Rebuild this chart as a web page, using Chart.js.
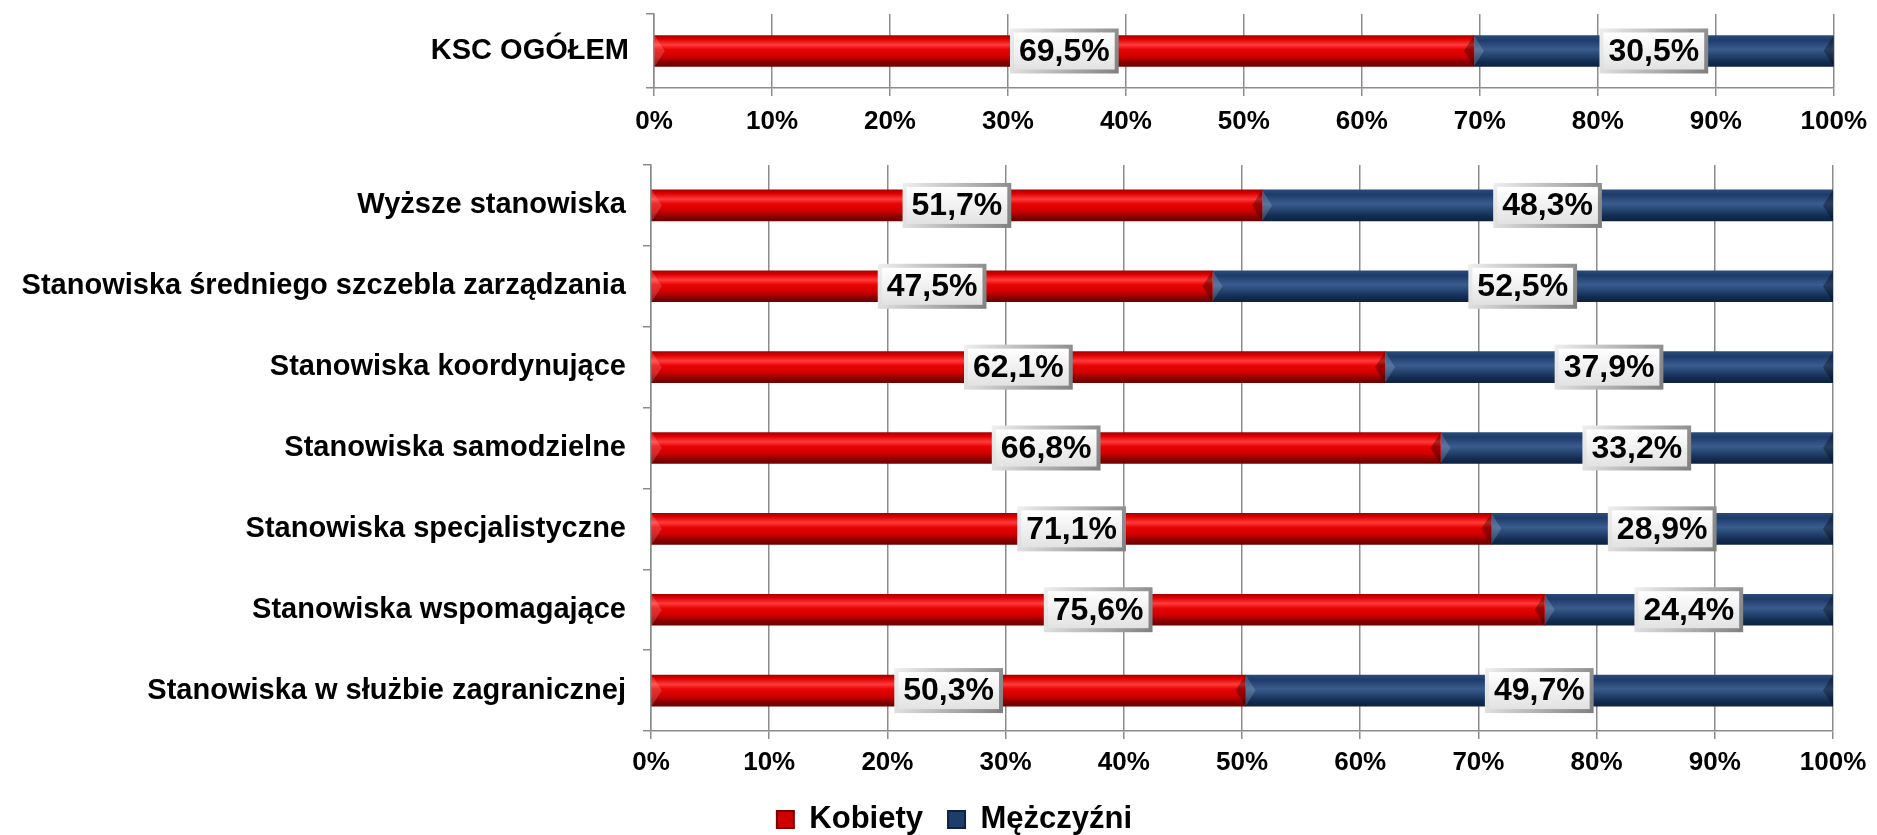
<!DOCTYPE html>
<html lang="pl">
<head>
<meta charset="UTF-8">
<title>KSC - kobiety i mężczyźni wg grup stanowisk</title>
<script src="https://cdn.jsdelivr.net/npm/chart.js"></script>
<style>
    body { margin: 0; width: 1877px; height: 835px; overflow: hidden; background: #fff; position: relative; }
    .box { position: absolute; left: 0; width: 1877px; }
</style>
</head>
<body>
<div class="box" style="top: 0; height: 140px;"><canvas id="totalChart"></canvas></div>
<div class="box" style="top: 140px; height: 705px;"><canvas id="groupsChart"></canvas></div>

<script>
    // dane
    const totalLabels = ['KSC OGÓŁEM'];
    const totalKobiety = [69.5];
    const totalMezczyzni = [30.5];

    const groupLabels = [
        'Wyższe stanowiska',
        'Stanowiska średniego szczebla zarządzania',
        'Stanowiska koordynujące',
        'Stanowiska samodzielne',
        'Stanowiska specjalistyczne',
        'Stanowiska wspomagające',
        'Stanowiska w służbie zagranicznej'
    ];
    const kobiety = [51.7, 47.5, 62.1, 66.8, 71.1, 75.6, 50.3];
    const mezczyzni = [48.3, 52.5, 37.9, 33.2, 28.9, 24.4, 49.7];

    const seriesNames = ['Kobiety', 'Mężczyźni'];
    const xTicks = [0, 10, 20, 30, 40, 50, 60, 70, 80, 90, 100];

    const FONT = "'Liberation Sans', Arial, sans-serif";
    Chart.defaults.font.family = FONT;
    Chart.defaults.font.weight = 'bold';
    Chart.defaults.color = '#000';

    const redStops = [[0, '#a80000'], [0.12, '#e00000'], [0.3, '#ff3b3b'], [0.45, '#e80404'], [0.68, '#d00000'], [0.85, '#8c0000'], [1, '#6e0000']];
    const blueStops = [[0, '#2a4a7a'], [0.15, '#1e3c6a'], [0.45, '#3a5c8e'], [0.65, '#24446f'], [0.85, '#132b50'], [1, '#0e2242']];

    function barFill(stops, flat) {
        return function (c) {
            const chart = c.chart;
            if (c.type !== 'data' || !chart.chartArea || !chart.scales.y) return flat;
            const yc = chart.scales.y.getPixelForValue(c.dataIndex);
            const g = chart.ctx.createLinearGradient(0, yc - 15.5, 0, yc + 15.5);
            stops.forEach(s => g.addColorStop(s[0], s[1]));
            return g;
        };
    }

    // skosy na koncach slupkow
    const bevelPlugin = {
        id: 'bevel',
        afterDatasetsDraw(chart) {
            const ctx = chart.ctx;
            chart.data.datasets.forEach((ds, di) => {
                chart.getDatasetMeta(di).data.forEach(bar => {
                    const l = Math.min(bar.x, bar.base), r = Math.max(bar.x, bar.base);
                    const t = bar.y - bar.height / 2, b = bar.y + bar.height / 2, e = 10;
                    ctx.save();
                    ctx.fillStyle = 'rgba(255,255,255,0.16)';
                    ctx.beginPath(); ctx.moveTo(l, t); ctx.lineTo(l + e, bar.y); ctx.lineTo(l, b); ctx.closePath(); ctx.fill();
                    ctx.fillStyle = 'rgba(0,0,0,0.32)';
                    ctx.beginPath(); ctx.moveTo(r, t); ctx.lineTo(r - e, bar.y); ctx.lineTo(r, b); ctx.closePath(); ctx.fill();
                    ctx.restore();
                });
            });
        }
    };

    // etykiety z wartosciami w bialych ramkach
    const tagPlugin = {
        id: 'tags',
        afterDatasetsDraw(chart) {
            const ctx = chart.ctx;
            ctx.save();
            ctx.font = 'bold 32px ' + FONT;
            chart.data.datasets.forEach((ds, di) => {
                chart.getDatasetMeta(di).data.forEach((bar, i) => {
                    const text = ds.data[i].toFixed(1).replace('.', ',') + '%';
                    const cx = (bar.x + bar.base) / 2, cy = bar.y;
                    const w = ctx.measureText(text).width + 18, h = 45;
                    const x = cx - w / 2, y = cy - h / 2;
                    let g = ctx.createLinearGradient(x, y, x + w, y + h);
                    g.addColorStop(0, '#f0f0f0');
                    g.addColorStop(1, '#7f7f7f');
                    ctx.fillStyle = g;
                    ctx.fillRect(x, y, w, h);
                    const k = 4;
                    g = ctx.createLinearGradient(0, y + k, 0, y + h - k);
                    g.addColorStop(0, '#ffffff');
                    g.addColorStop(1, '#e2e2e2');
                    ctx.fillStyle = g;
                    ctx.fillRect(x + k, y + k, w - 2 * k, h - 2 * k);
                    ctx.fillStyle = '#000';
                    ctx.textAlign = 'center';
                    ctx.textBaseline = 'middle';
                    ctx.fillText(text, cx, cy + 1);
                });
            });
            ctx.restore();
        }
    };

    // legenda troche w prawo, jak w oryginale
    const legendShift = {
        id: 'legendShift',
        afterLayout(chart) {
            if (chart.legend && chart.options.plugins.legend.display !== false) {
                chart.legend.left += 38;
                chart.legend.right += 38;
            }
        }
    };

    function makeDatasets(k, m) {
        return [
            { label: seriesNames[0], data: k, backgroundColor: barFill(redStops, '#d00000'), barThickness: 31 },
            { label: seriesNames[1], data: m, backgroundColor: barFill(blueStops, '#1f3d6b'), barThickness: 31 }
        ];
    }

    function makeOptions(yWidth, pad, xPad, legend) {
        return {
            indexAxis: 'y',
            responsive: true,
            maintainAspectRatio: false,
            animation: false,
            layout: { padding: pad },
            plugins: {
                tooltip: { enabled: false },
                legend: legend
            },
            scales: {
                x: {
                    stacked: true,
                    min: 0,
                    max: 100,
                    afterBuildTicks: s => { s.ticks = xTicks.map(v => ({ value: v })); },
                    afterFit: s => { s.height = 8 + xPad + 32; },
                    ticks: { callback: v => v + '%', font: { size: 26, weight: 'bold' }, padding: xPad, maxRotation: 0 },
                    grid: { color: '#8c8c8c', lineWidth: 1.5, tickLength: 8 },
                    border: { color: '#8c8c8c', width: 1.5 }
                },
                y: {
                    stacked: true,
                    afterFit: s => { s.width = yWidth; s.paddingTop = 0; s.paddingBottom = 0; },
                    ticks: { font: { size: 29, weight: 'bold' }, padding: 17 },
                    grid: { offset: true, drawOnChartArea: false, color: '#8c8c8c', lineWidth: 1.5, tickLength: 8 },
                    border: { color: '#8c8c8c', width: 1.5 }
                }
            }
        };
    }

    new Chart(document.getElementById('totalChart'), {
        type: 'bar',
        data: { labels: totalLabels, datasets: makeDatasets(totalKobiety, totalMezczyzni) },
        options: makeOptions(654, { top: 14, right: 37, bottom: 2, left: 0 }, 10, { display: false }),
        plugins: [bevelPlugin, tagPlugin]
    });

    new Chart(document.getElementById('groupsChart'), {
        type: 'bar',
        data: { labels: groupLabels, datasets: makeDatasets(kobiety, mezczyzni) },
        options: makeOptions(651, { top: 25, right: 44, bottom: 0, left: 0 }, 8, {
            position: 'bottom',
            labels: {
                font: { size: 31, weight: 'bold' },
                boxWidth: 17,
                boxHeight: 17,
                padding: 25,
                generateLabels: () => [
                    { text: seriesNames[0], fillStyle: '#d00000', strokeStyle: '#7a0000', lineWidth: 2, datasetIndex: 0 },
                    { text: seriesNames[1], fillStyle: '#1f3d6b', strokeStyle: '#0e2242', lineWidth: 2, datasetIndex: 1 }
                ]
            }
        }),
        plugins: [bevelPlugin, tagPlugin, legendShift]
    });
</script>
</body>
</html>
